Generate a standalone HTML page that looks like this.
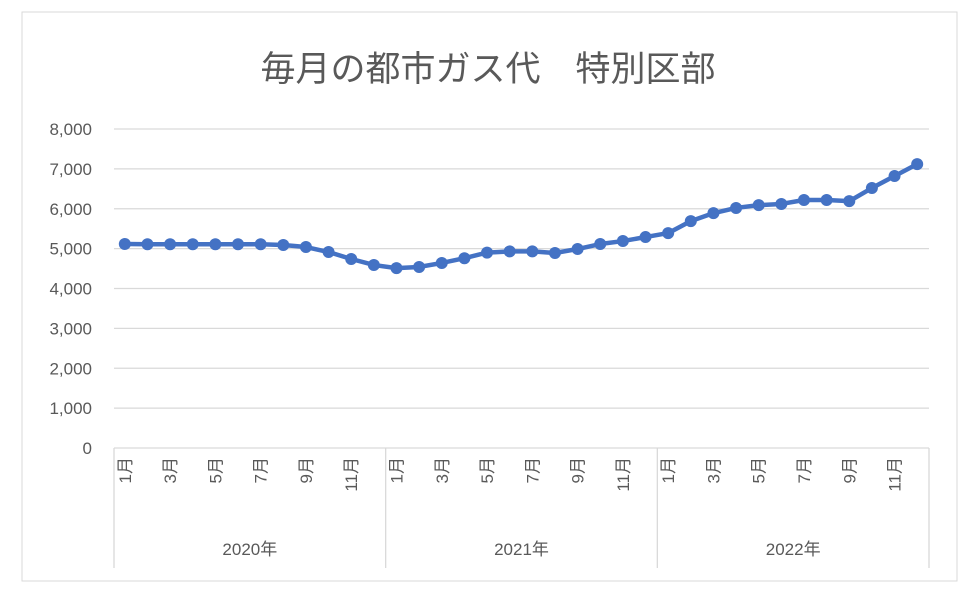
<!DOCTYPE html>
<html><head><meta charset="utf-8"><style>
body{margin:0;background:#fff;font-family:"Liberation Sans","Noto Sans CJK JP",sans-serif;}
</style></head><body>
<svg width="974" height="602" xmlns="http://www.w3.org/2000/svg">
<rect x="22" y="12" width="935" height="569" fill="#fff" stroke="#d9d9d9"/>
<text x="488" y="81" text-anchor="middle" font-size="35" fill="#595959" font-family="Liberation Sans,Noto Sans CJK JP,sans-serif">毎月の都市ガス代　特別区部</text>
<g id="grid"></g><g id="yt"></g><g id="xt"></g><g id="series"></g>
</svg>
<script>
const months=["1月","2月","3月","4月","5月","6月","7月","8月","9月","10月","11月","12月"];
const years=["2020年","2021年","2022年"];
const values=[5115,5110,5110,5110,5110,5110,5110,5090,5040,4915,4740,4590,4510,4540,4640,4760,4900,4930,4930,4890,4990,5115,5190,5290,5390,5690,5890,6020,6090,6120,6220,6220,6190,6520,6820,7120];
const yTicks=[0,1000,2000,3000,4000,5000,6000,7000,8000];
const NS="http://www.w3.org/2000/svg";
const x0=114,x1=929,y0=448,y1=129,n=values.length,step=(x1-x0)/n;
const X=i=>x0+step*(i+0.5)-0.5, Y=v=>y0-(v/8000)*(y0-y1);
function mk(t,a,p){const e=document.createElementNS(NS,t);for(const k in a)e.setAttribute(k,a[k]);document.getElementById(p).appendChild(e);return e;}
yTicks.forEach(v=>{
 const l=mk('line',{x1:x0,x2:x1,y1:Y(v),y2:Y(v),stroke:'#d9d9d9','stroke-width':1.3},'grid');
 
 
 const t=mk('text',{x:92,y:Y(v)+6,'text-anchor':'end','font-size':17,fill:'#595959'},'yt');
 t.textContent=v.toLocaleString('en-US');
 
 
});
for(let k=0;k<=years.length;k++){
 const xx=x0+step*12*k;
 const l=mk('line',{x1:xx,x2:xx,y1:y0,y2:568,stroke:'#d9d9d9','stroke-width':1.3},'xt');
 
 
}
years.forEach((y,k)=>{
 const t=mk('text',{x:x0+step*12*(k+0.5),y:555,'text-anchor':'middle','font-size':17,fill:'#595959'},'xt');
 t.textContent=y;
 
 
});
for(let i=0;i<n;i+=2){
 const t=mk('text',{transform:`translate(${X(i)+6},${457}) rotate(-90)`,'text-anchor':'end','font-size':17,fill:'#595959'},'xt');
 t.textContent=months[i%12];
 
 
}
const pl=mk('polyline',{points:values.map((v,i)=>X(i)+','+Y(v)).join(' '),fill:'none',stroke:'#4472c4','stroke-width':4.5,'stroke-linejoin':'round'},'series');


values.forEach((v,i)=>{
 const c=mk('circle',{cx:X(i),cy:Y(v),r:6,fill:'#4472c4'},'series');
 
 
});
</script>
</body></html>
